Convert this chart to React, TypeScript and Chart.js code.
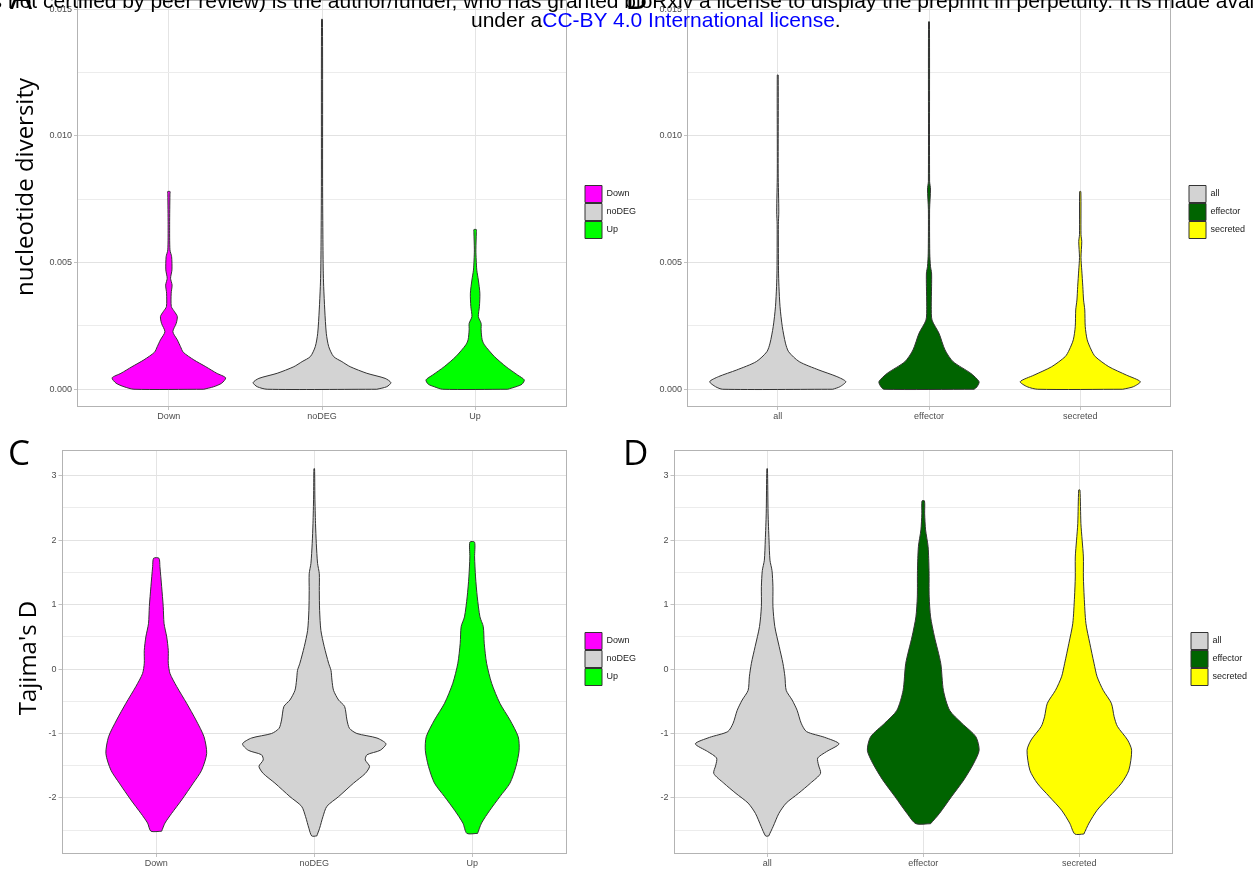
import React, { useEffect, useRef } from 'react';
import { Chart, registerables } from 'chart.js';

Chart.register(...registerables);

// ---------- categories & ticks ----------
const degCategories = ['Down', 'noDEG', 'Up'];
const setCategories = ['all', 'effector', 'secreted'];

const diversityTicks = [0, 0.0025, 0.005, 0.0075, 0.01, 0.0125, 0.015];
const diversityTickLabels = ['0.000', '', '0.005', '', '0.010', '', '0.015'];
const tajimaTicks = [-2.5, -2, -1.5, -1, -0.5, 0, 0.5, 1, 1.5, 2, 2.5, 3];
const tajimaTickLabels = ['', '-2', '', '-1', '', '0', '', '1', '', '2', '', '3'];

// ---------- violin profiles (value level, half width in category units) ----------
// Panel A: nucleotide diversity by DEG class
const piDownY = [0, 0.0001, 0.00024, 0.00045, 0.00063, 0.00089, 0.00116, 0.00146, 0.00168, 0.00195, 0.00227, 0.0026, 0.00287, 0.00306, 0.00326, 0.00379, 0.00411, 0.00438, 0.00471, 0.00523, 0.0055, 0.0065, 0.0077, 0.0078];
const piDownW = [0.228, 0.293, 0.345, 0.371, 0.313, 0.241, 0.163, 0.094, 0.076, 0.055, 0.026, 0.048, 0.055, 0.037, 0.016, 0.015, 0.021, 0.011, 0.02, 0.018, 0.007, 0.005, 0.007, 0.008];
const piNoDEGY = [0, 0.0001, 0.00026, 0.00043, 0.00063, 0.00089, 0.00109, 0.00129, 0.00168, 0.00221, 0.00313, 0.00405, 0.0047, 0.0059, 0.008, 0.0146];
const piNoDEGW = [0.358, 0.423, 0.45, 0.412, 0.293, 0.184, 0.13, 0.076, 0.044, 0.028, 0.018, 0.011, 0.008, 0.006, 0.004, 0.003];
const piUpY = [0, 0.0001, 0.0002, 0.00037, 0.00056, 0.00089, 0.00129, 0.00175, 0.00195, 0.00234, 0.0026, 0.00287, 0.00326, 0.00379, 0.00431, 0.0047, 0.0051, 0.0055, 0.0062, 0.0063];
const piUpW = [0.213, 0.267, 0.306, 0.321, 0.278, 0.202, 0.126, 0.061, 0.046, 0.039, 0.039, 0.021, 0.028, 0.031, 0.021, 0.011, 0.007, 0.005, 0.008, 0.008];

// Panel B: nucleotide diversity by gene set
const piAllY = [0, 0.0001, 0.0003, 0.0005, 0.00076, 0.00109, 0.00148, 0.00182, 0.00247, 0.00326, 0.00405, 0.0047, 0.0065, 0.007, 0.0085, 0.0124];
const piAllW = [0.364, 0.411, 0.45, 0.391, 0.272, 0.142, 0.072, 0.051, 0.03, 0.015, 0.008, 0.005, 0.004, 0.007, 0.003, 0.003];
const piEffY = [0, 0.0001, 0.0003, 0.00063, 0.00109, 0.00155, 0.00221, 0.00273, 0.00326, 0.00405, 0.00459, 0.00484, 0.00537, 0.0071, 0.0079, 0.0082, 0.0145];
const piEffW = [0.298, 0.318, 0.331, 0.276, 0.159, 0.106, 0.066, 0.02, 0.015, 0.017, 0.017, 0.01, 0.005, 0.004, 0.01, 0.004, 0.003];
const piSecY = [0, 0.0001, 0.0003, 0.00056, 0.00089, 0.00129, 0.00155, 0.00195, 0.00247, 0.00313, 0.00352, 0.00405, 0.0047, 0.0052, 0.00583, 0.0061, 0.0078];
const piSecW = [0.281, 0.351, 0.397, 0.305, 0.189, 0.099, 0.073, 0.046, 0.033, 0.03, 0.022, 0.017, 0.01, 0.005, 0.01, 0.005, 0.004];

// Panel C: Tajima's D by DEG class
const tdDownY = [-2.516, -2.39, -2.24, -2.03, -1.77, -1.57, -1.31, -1.05, -0.79, -0.53, -0.27, -0.07, 0.09, 0.29, 0.5, 0.71, 0.97, 1.28, 1.59, 1.72];
const tdDownW = [0.034, 0.055, 0.097, 0.161, 0.234, 0.287, 0.319, 0.302, 0.251, 0.192, 0.129, 0.087, 0.076, 0.076, 0.066, 0.049, 0.044, 0.034, 0.023, 0.017];
const tdNoDEGY = [-2.59, -2.47, -2.29, -2.13, -1.98, -1.77, -1.62, -1.51, -1.41, -1.33, -1.26, -1.16, -1.07, -1.0, -0.92, -0.79, -0.58, -0.48, -0.33, -0.17, -0.02, 0.09, 0.35, 0.6, 0.91, 1.22, 1.48, 1.64, 1.95, 2.26, 2.67, 3.11];
const tdNoDEGW = [0.016, 0.034, 0.055, 0.08, 0.154, 0.249, 0.323, 0.35, 0.323, 0.334, 0.418, 0.454, 0.397, 0.27, 0.223, 0.207, 0.192, 0.154, 0.122, 0.112, 0.106, 0.091, 0.063, 0.042, 0.034, 0.032, 0.032, 0.021, 0.013, 0.008, 0.004, 0.002];
const tdUpY = [-2.55, -2.39, -2.19, -1.98, -1.77, -1.51, -1.26, -1.05, -0.79, -0.53, -0.22, 0.09, 0.4, 0.66, 0.81, 1.12, 1.43, 1.74, 1.97];
const tdUpW = [0.034, 0.059, 0.112, 0.175, 0.239, 0.277, 0.297, 0.291, 0.239, 0.175, 0.123, 0.091, 0.076, 0.07, 0.049, 0.032, 0.021, 0.015, 0.015];

// Panel D: Tajima's D by gene set
const tdAllY = [-2.59, -2.44, -2.24, -2.08, -1.93, -1.77, -1.62, -1.49, -1.38, -1.28, -1.16, -1.06, -0.97, -0.84, -0.64, -0.48, -0.33, -0.12, 0.09, 0.35, 0.66, 0.97, 1.28, 1.53, 1.69, 2.0, 2.42, 3.11];
const tdAllW = [0.01, 0.039, 0.075, 0.122, 0.2, 0.278, 0.342, 0.329, 0.324, 0.381, 0.46, 0.369, 0.252, 0.218, 0.192, 0.16, 0.122, 0.114, 0.101, 0.077, 0.049, 0.037, 0.037, 0.031, 0.018, 0.012, 0.006, 0.002];
const tdEffY = [-2.4, -2.24, -1.98, -1.72, -1.46, -1.26, -1.05, -0.84, -0.64, -0.33, 0.09, 0.5, 0.81, 1.12, 1.53, 1.9, 2.16, 2.41, 2.61];
const tdEffW = [0.047, 0.104, 0.181, 0.26, 0.324, 0.358, 0.337, 0.247, 0.169, 0.129, 0.112, 0.072, 0.047, 0.038, 0.037, 0.031, 0.015, 0.009, 0.008];
const tdSecY = [-2.56, -2.39, -2.19, -1.98, -1.77, -1.57, -1.26, -1.1, -0.89, -0.74, -0.53, -0.33, -0.12, 0.09, 0.4, 0.71, 1.12, 1.43, 1.74, 2.0, 2.26, 2.78];
const tdSecW = [0.029, 0.062, 0.114, 0.192, 0.27, 0.317, 0.335, 0.309, 0.244, 0.223, 0.205, 0.153, 0.114, 0.094, 0.067, 0.042, 0.031, 0.026, 0.026, 0.018, 0.01, 0.004];

// ---------- styles ----------
const FILL_DOWN = '#FF00FF';
const FILL_GREY = '#D3D3D3';
const FILL_UP = '#00FF00';
const FILL_EFF = '#006400';
const FILL_SEC = '#FFFF00';

type Violin = { label: string; ys: number[]; ws: number[]; color: string };
type Panel = {
  left: number; top: number; width: number; height: number;
  axisW: number; axisH: number;
  yMin: number; yMax: number; yTicks: number[]; yLabels: string[];
  categories: string[]; violins: Violin[];
};

function outline(center: number, ys: number[], ws: number[]) {
  const right = ys.map((y, i) => ({ x: center + ws[i], y }));
  const left = ys.map((y, i) => ({ x: center - ws[i], y })).reverse();
  return [...right, ...left, right[0]];
}

const panels: Panel[] = [
  {
    left: 0, top: 0, width: 644, height: 424, axisW: 77, axisH: 17,
    yMin: -0.0007, yMax: 0.01536, yTicks: diversityTicks, yLabels: diversityTickLabels,
    categories: degCategories,
    violins: [
      { label: degCategories[0], ys: piDownY, ws: piDownW, color: FILL_DOWN },
      { label: degCategories[1], ys: piNoDEGY, ws: piNoDEGW, color: FILL_GREY },
      { label: degCategories[2], ys: piUpY, ws: piUpW, color: FILL_UP },
    ],
  },
  {
    left: 634, top: 0, width: 614, height: 424, axisW: 53, axisH: 17,
    yMin: -0.0007, yMax: 0.01536, yTicks: diversityTicks, yLabels: diversityTickLabels,
    categories: setCategories,
    violins: [
      { label: setCategories[0], ys: piAllY, ws: piAllW, color: FILL_GREY },
      { label: setCategories[1], ys: piEffY, ws: piEffW, color: FILL_EFF },
      { label: setCategories[2], ys: piSecY, ws: piSecW, color: FILL_SEC },
    ],
  },
  {
    left: 0, top: 450, width: 644, height: 418, axisW: 61.5, axisH: 14,
    yMin: -2.87, yMax: 3.4, yTicks: tajimaTicks, yLabels: tajimaTickLabels,
    categories: degCategories,
    violins: [
      { label: degCategories[0], ys: tdDownY, ws: tdDownW, color: FILL_DOWN },
      { label: degCategories[1], ys: tdNoDEGY, ws: tdNoDEGW, color: FILL_GREY },
      { label: degCategories[2], ys: tdUpY, ws: tdUpW, color: FILL_UP },
    ],
  },
  {
    left: 634, top: 450, width: 616, height: 418, axisW: 39.5, axisH: 14,
    yMin: -2.87, yMax: 3.4, yTicks: tajimaTicks, yLabels: tajimaTickLabels,
    categories: setCategories,
    violins: [
      { label: setCategories[0], ys: tdAllY, ws: tdAllW, color: FILL_GREY },
      { label: setCategories[1], ys: tdEffY, ws: tdEffW, color: FILL_EFF },
      { label: setCategories[2], ys: tdSecY, ws: tdSecW, color: FILL_SEC },
    ],
  },
];

const tickFont = { family: "'Liberation Sans', Arial, sans-serif", size: 9 };

const panelBorder = {
  id: 'panelBorder',
  afterDatasetsDraw(chart: any) {
    const { ctx, chartArea: a } = chart;
    const l = Math.round(a.left) + 0.5;
    const t = Math.round(a.top) + 0.5;
    const r = Math.round(a.right) - 0.5;
    const b = Math.round(a.bottom) - 0.5;
    ctx.save();
    ctx.strokeStyle = '#b3b3b3';
    ctx.lineWidth = 1;
    ctx.strokeRect(l, t, r - l, b - t);
    ctx.restore();
  },
};

const zeroPadding = (s: any) => {
  s.paddingTop = 0;
  s.paddingBottom = 0;
  s.paddingLeft = 0;
  s.paddingRight = 0;
};

function makeChart(canvas: HTMLCanvasElement, p: Panel) {
  const labelFor = (v: number) => {
    const i = p.yTicks.findIndex((t) => Math.abs(t - v) < 1e-9);
    return i >= 0 ? p.yLabels[i] : '';
  };
  const isMajor = (v: number) => labelFor(v) !== '';
  return new Chart(canvas, {
    type: 'line',
    data: {
      datasets: p.violins.map((v, i) => ({
        label: v.label,
        data: outline(i + 1, v.ys, v.ws),
        backgroundColor: v.color,
        borderColor: '#333333',
        borderWidth: 1,
        fill: 'shape',
        tension: 0.25,
        pointRadius: 0,
        pointHoverRadius: 0,
        pointHitRadius: 0,
        borderJoinStyle: 'round',
      })),
    },
    options: {
      responsive: false,
      animation: false,
      events: [],
      layout: { padding: 0, autoPadding: false },
      plugins: {
        tooltip: { enabled: false },
        title: { display: false },
        legend: {
          display: true,
          position: 'right',
          align: 'center',
          maxWidth: 60,
          labels: {
            boxWidth: 17,
            boxHeight: 17,
            padding: 1,
            color: '#1a1a1a',
            font: tickFont,
          },
        },
      },
      scales: {
        x: {
          type: 'linear',
          min: 0.4,
          max: 3.6,
          afterBuildTicks: (s: any) => {
            s.ticks = p.categories.map((_, i) => ({ value: i + 1 }));
          },
          afterFit: (s: any) => {
            s.height = p.axisH;
            zeroPadding(s);
          },
          ticks: {
            autoSkip: false,
            maxRotation: 0,
            padding: 1,
            color: '#4d4d4d',
            font: tickFont,
            callback: (v: any) => p.categories[Math.round(Number(v)) - 1] ?? '',
          },
          grid: {
            color: '#e4e4e4',
            lineWidth: 1,
            drawTicks: true,
            tickLength: 3,
            tickColor: '#b3b3b3',
            tickWidth: 0.8,
          },
          border: { display: false },
        },
        y: {
          type: 'linear',
          min: p.yMin,
          max: p.yMax,
          afterBuildTicks: (s: any) => {
            s.ticks = p.yTicks.map((v) => ({ value: v }));
          },
          afterFit: (s: any) => {
            s.width = p.axisW;
            zeroPadding(s);
          },
          ticks: {
            autoSkip: false,
            padding: 2,
            color: '#4d4d4d',
            font: tickFont,
            callback: (v: any) => labelFor(Number(v)),
          },
          grid: {
            color: (c: any) => (c.tick && isMajor(c.tick.value) ? '#e2e2e2' : '#ececec'),
            lineWidth: 1,
            drawTicks: true,
            tickLength: 3,
            tickColor: (c: any) => (c.tick && isMajor(c.tick.value) ? '#b3b3b3' : 'rgba(0,0,0,0)'),
            tickWidth: 0.8,
          },
          border: { display: false },
        },
        yR: {
          type: 'linear',
          position: 'right',
          display: true,
          grid: { display: false },
          ticks: { display: false },
          border: { display: false },
          afterFit: (s: any) => {
            s.width = 17;
            zeroPadding(s);
          },
        },
      },
    } as any,
    plugins: [panelBorder],
  } as any);
}

function PanelCanvas({ p }: { p: Panel }) {
  const ref = useRef<HTMLCanvasElement | null>(null);
  useEffect(() => {
    if (!ref.current) return;
    const chart = makeChart(ref.current, p);
    return () => chart.destroy();
  }, [p]);
  return (
    <canvas
      ref={ref}
      width={p.width}
      height={p.height}
      style={{ position: 'absolute', left: p.left, top: p.top, width: p.width, height: p.height, display: 'block' }}
    />
  );
}

const headerFont: React.CSSProperties = {
  position: 'absolute',
  fontFamily: "'Liberation Sans', Arial, sans-serif",
  fontSize: 21,
  lineHeight: '21px',
  color: '#000',
  whiteSpace: 'pre',
};

const letterStyle: React.CSSProperties = {
  position: 'absolute',
  fontFamily: "'Open Sans', sans-serif",
  fontSize: 35,
  lineHeight: '35px',
  color: '#000',
  whiteSpace: 'pre',
};

const yTitleStyle = (cx: number, cy: number): React.CSSProperties => ({
  position: 'absolute',
  left: cx,
  top: cy,
  transform: 'translate(-50%, -50%) rotate(-90deg)',
  fontFamily: "'Open Sans', sans-serif",
  fontSize: 24,
  lineHeight: '24px',
  color: '#000',
  whiteSpace: 'pre',
});

export default function App() {
  return (
    <div style={{ position: 'absolute', left: 0, top: 0, width: 1255, height: 870, background: '#fff', overflow: 'hidden' }}>
      {panels.map((p, i) => (
        <PanelCanvas key={i} p={p} />
      ))}
      <div style={yTitleStyle(24, 187)}>nucleotide diversity</div>
      <div style={yTitleStyle(27, 658)}>Tajima's D</div>
      <div style={{ ...letterStyle, left: 10, top: -22 }}>A</div>
      <div style={{ ...letterStyle, left: 625, top: -22 }}>B</div>
      <div style={{ ...letterStyle, left: 8, top: 434 }}>C</div>
      <div style={{ ...letterStyle, left: 623, top: 434 }}>D</div>
      <div style={{ ...headerFont, left: 0, top: -10.5, width: 43, display: 'flex', justifyContent: 'flex-end' }}>
        <span>The copyright holder for this preprint (which was not </span>
      </div>
      <div style={{ ...headerFont, left: 43, top: -10.5 }}>
        certified by peer review) is the author/funder, who has granted bioRxiv a license to display the preprint in perpetuity. It is made available
      </div>
      <div style={{ ...headerFont, left: 471, top: 8.5 }}>
        under a<span style={{ color: '#0000FF' }}>CC-BY 4.0 International license</span>.
      </div>
    </div>
  );
}
